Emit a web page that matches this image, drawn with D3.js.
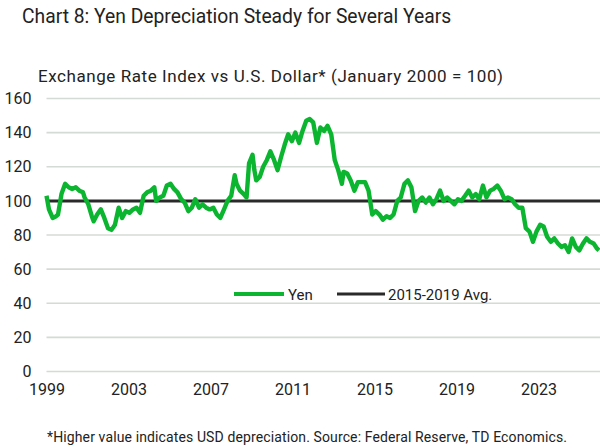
<!DOCTYPE html>
<html><head><meta charset="utf-8">
<script src="https://cdn.jsdelivr.net/npm/d3@7"></script>
<style>
html,body{margin:0;padding:0;background:#fff;}
svg text{font-family:Roboto,"Noto Sans",sans-serif;fill:#222;}
</style></head>
<body><svg id="c" width="600" height="448"></svg>
<script>
// Decimal-year positions of the Yen series
const dates = [1999.00,1999.12,1999.30,1999.47,1999.56,1999.73,1999.91,2000.08,2000.25,2000.43,2000.60,2000.78,2000.86,2001.04,2001.21,2001.30,2001.47,2001.65,2001.82,2002.00,2002.17,2002.34,2002.52,2002.69,2002.87,2003.04,2003.22,2003.39,2003.56,2003.74,2003.91,2004.09,2004.26,2004.35,2004.52,2004.70,2004.87,2005.05,2005.22,2005.39,2005.57,2005.74,2005.92,2006.09,2006.26,2006.44,2006.61,2006.79,2006.96,2007.14,2007.31,2007.48,2007.66,2007.83,2008.01,2008.18,2008.27,2008.44,2008.62,2008.76,2008.88,2009.05,2009.14,2009.23,2009.40,2009.57,2009.75,2009.92,2010.10,2010.27,2010.45,2010.62,2010.79,2010.97,2011.14,2011.32,2011.49,2011.67,2011.84,2012.01,2012.19,2012.36,2012.54,2012.71,2012.89,2013.06,2013.23,2013.41,2013.49,2013.67,2013.84,2014.02,2014.19,2014.37,2014.54,2014.71,2014.89,2015.06,2015.24,2015.41,2015.59,2015.76,2015.93,2016.11,2016.28,2016.46,2016.63,2016.80,2016.98,2017.15,2017.33,2017.50,2017.68,2017.85,2018.02,2018.20,2018.37,2018.55,2018.72,2018.90,2019.07,2019.24,2019.42,2019.59,2019.77,2019.94,2020.11,2020.29,2020.46,2020.64,2020.81,2020.99,2021.16,2021.34,2021.51,2021.69,2021.86,2022.03,2022.21,2022.38,2022.56,2022.73,2022.90,2023.08,2023.25,2023.42,2023.60,2023.77,2023.95,2024.12,2024.29,2024.47,2024.64,2024.82,2024.99,2025.17,2025.34,2025.51,2025.69,2025.86,2025.95];
const yen = [103,95,90,91,92,104,110,108,107,108,106,105,102,98,91,88,92,95,90,84,83,86,96,90,94,93,95,96,93,103,105,106,108,100,102,103,109,110,107,105,101,99,94,96,101,96,98,96,95,96,92,90,95,100,103,115,110,106,104,102,122,127,118,112,114,120,124,129,124,118,126,133,139,135,140,134,141,147,148,146,134,143,141,144,139,124,118,110,117,116,112,106,111,111,111,106,92,94,92,89,91,90,92,100,102,110,112,108,94,100,102,99,102,98,101,106,100,102,100,98,101,100,103,106,102,104,101,109,102,106,107,109,106,101,102,101,98,96,96,84,82,76,82,86,85,79,76,78,75,73,74,70,78,73,71,75,78,76,75,72,71];
const avgValue = 100;
const yTicks = [0,20,40,60,80,100,120,140,160];
const xTicks = [1999,2003,2007,2011,2015,2019,2023];
const seriesNames = ["Yen","2015-2019 Avg."];
const title = "Chart 8: Yen Depreciation Steady for Several Years";
const subtitle = "Exchange Rate Index vs U.S. Dollar* (January 2000 = 100)";
const footnote = "*Higher value indicates USD depreciation. Source: Federal Reserve, TD Economics.";

const svg = d3.select("#c");
const green = "#0cb52f", dark = "#2a2a2a";
const plotL = 46.5, plotR = 600, plotT = 98.5, plotB = 371.5;

const x = d3.scaleLinear().domain([1999, 2026]).range([plotL, plotR]);
const y = d3.scaleLinear().domain([0, 160]).range([plotB, plotT]);

svg.append("text").attr("x", 22).attr("y", 23).attr("font-size", 19.3).text(title);
svg.append("text").attr("x", 38).attr("y", 82).attr("font-size", 17)
  .attr("textLength", 465).attr("lengthAdjust", "spacing").text(subtitle);

// gridlines
svg.append("g").selectAll("line").data(yTicks).join("line")
  .attr("x1", plotL).attr("x2", plotR)
  .attr("y1", d => y(d)).attr("y2", d => y(d))
  .attr("stroke", "#d4dbd4").attr("stroke-width", 1.6);

// y axis labels
const ya = svg.append("g").attr("transform", `translate(${plotL},0)`)
  .call(d3.axisLeft(y).tickValues(yTicks).tickSize(0).tickPadding(15));
ya.select(".domain").remove();
ya.selectAll("text").attr("font-size", 16).style("font-family", "Roboto").attr("fill", "#222");

// x axis labels
const xa = svg.append("g").attr("transform", `translate(0,${plotB})`)
  .call(d3.axisBottom(x).tickValues(xTicks).tickFormat(d3.format("d")).tickSize(0).tickPadding(12));
xa.select(".domain").remove();
xa.selectAll("text").attr("font-size", 16).style("font-family", "Roboto").attr("fill", "#222");

// avg line
svg.append("line").attr("x1", x(1999)).attr("x2", x(2026))
  .attr("y1", y(avgValue)).attr("y2", y(avgValue))
  .attr("stroke", dark).attr("stroke-width", 3);

// yen line
const pts = dates.map((d, i) => [d, yen[i]]);
svg.append("path").datum(pts)
  .attr("fill", "none").attr("stroke", green).attr("stroke-width", 4.4)
  .attr("stroke-linejoin", "round")
  .attr("d", d3.line().x(d => x(d[0])).y(d => y(d[1])));

// legend
const lg = svg.append("g").attr("transform", "translate(0,294)");
lg.append("line").attr("x1", 234).attr("x2", 284).attr("y1", 0).attr("y2", 0).attr("stroke", green).attr("stroke-width", 4);
lg.append("text").attr("x", 288).attr("y", 5.5).attr("font-size", 15).text(seriesNames[0]);
lg.append("line").attr("x1", 337).attr("x2", 385).attr("y1", 0).attr("y2", 0).attr("stroke", dark).attr("stroke-width", 3);
lg.append("text").attr("x", 388).attr("y", 5.5).attr("font-size", 15).text(seriesNames[1]);

svg.append("text").attr("x", 47).attr("y", 442).attr("font-size", 14)
  .attr("textLength", 520).attr("lengthAdjust", "spacing").text(footnote);
</script></body></html>
